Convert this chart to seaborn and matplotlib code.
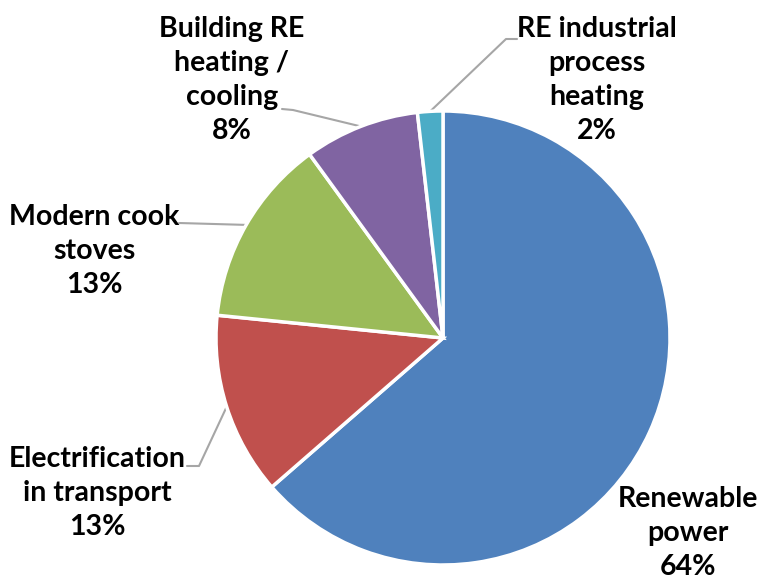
import numpy as np
import matplotlib
matplotlib.use('Agg')
import matplotlib.pyplot as plt
import seaborn as sns

sns.set_theme(style='white')
plt.rcParams['font.family'] = ['Lato', 'DejaVu Sans']

categories = ['Renewable\npower', 'Electrification\nin transport', 'Modern cook\nstoves',
              'Building RE\nheating /\ncooling', 'RE industrial\nprocess\nheating']
shares = [63.6, 13.0, 13.4, 8.2, 1.8]
pct_labels = ['64%', '13%', '13%', '8%', '2%']
colors = ['#4F81BD', '#C0504D', '#9BBB59', '#8064A2', '#4BACC6']

W, H = 759, 580
cx, cy, rad = 443, H - 338, 227

fig = plt.figure(figsize=(W / 100, H / 100), dpi=100)
ax = fig.add_axes([0, 0, 1, 1])
wedges, _ = ax.pie(shares, colors=colors, startangle=90, counterclock=False,
                   center=(cx, cy), radius=rad,
                   wedgeprops=dict(edgecolor='white', linewidth=2.5))
ax.set_xlim(0, W)
ax.set_ylim(0, H)
ax.set_aspect('equal')
ax.axis('off')

# label centre (px from top-left) and leader line points near the text
label_pos = [(688, 533), (97, 493), (94, 251), (232, 80), (597, 80)]
leaders = [None,
           [(187, 466), (199, 466)],
           [(179, 223)],
           [(282, 109), (293, 110)],
           [(517, 39), (506, 39)]]

for w, cat, pct, (lx, ly), lead in zip(wedges, categories, pct_labels, label_pos, leaders):
    ax.text(lx, H - ly, cat + '\n' + pct, ha='center', va='center',
            fontsize=20.5, fontweight='bold', color='black', linespacing=1.38)
    if lead is None:
        continue
    mid = np.deg2rad((w.theta1 + w.theta2) / 2)
    px, py = cx + rad * np.cos(mid), cy + rad * np.sin(mid)
    xs = [p[0] for p in lead] + [px]
    ys = [H - p[1] for p in lead] + [py]
    ax.plot(xs, ys, color='#A6A6A6', lw=1.5, zorder=0.5)

fig.savefig('out.png', dpi=100)
